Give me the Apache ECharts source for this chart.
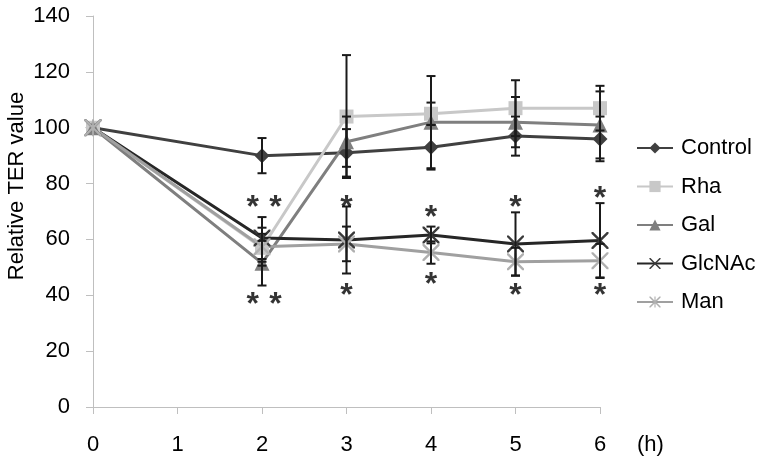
<!DOCTYPE html>
<html><head><meta charset="utf-8">
<script src="https://cdn.jsdelivr.net/npm/echarts@6/dist/echarts.min.js"></script>
<style>html,body{margin:0;padding:0;background:#fff}#c{width:759px;height:459px}</style>
</head><body><div id="c"></div>
<script>
const hours = [0, 2, 3, 4, 5, 6];
const xTicks = [0, 1, 2, 3, 4, 5, 6];
const control = [100, 90, 91, 93, 97, 96];
const controlErr = [0, 6.3, 8.5, 8, 7, 8];
const rha = [100, 57, 104, 105, 107, 107];
const rhaErr = [0, 5, 22, 4, 10, 8];
const gal = [100, 51.5, 95, 102, 102, 101];
const galErr = [0, 8, 9, 16.5, 9, 12];
const glcnac = [100, 60.5, 59.8, 61.6, 58.4, 59.6];
const glcnacErr = [0, 7.5, 12, 3, 11.3, 13.4];
const man = [100, 57.4, 58.4, 55.3, 52, 52.4];
const manErr = [0, 6.8, 6.2, 4, 5, 6];
const starX = [1.89, 2.16, 3, 4, 5, 6, 1.89, 2.16, 3, 4, 5, 6];
const starY = [73.2, 73.2, 73.2, 69.6, 73.5, 76.7, 38.5, 38.5, 41.9, 45.8, 41.9, 41.9];

const FONT = 'Liberation Sans, Arial, sans-serif';
const X_PATH = 'path://M0,0 L2,0 L10,8 L18,0 L20,0 L20,2 L12,10 L20,18 L20,20 L18,20 L10,12 L2,20 L0,20 L0,18 L8,10 L0,2 Z';
const STAR_PATH = 'path://M0,0 L2,0 L10,8 L18,0 L20,0 L20,2 L12,10 L20,18 L20,20 L18,20 L10,12 L2,20 L0,20 L0,18 L8,10 L0,2 Z M9,0 L11,0 L11,20 L9,20 Z';

const defs = [
  {name: 'Control', vals: control, err: controlErr, color: '#404040', symbol: 'diamond', size: 15},
  {name: 'Rha', vals: rha, err: rhaErr, color: '#c8c8c8', symbol: 'rect', size: 14},
  {name: 'Gal', vals: gal, err: galErr, color: '#7f7f7f', symbol: 'triangle', size: 15},
  {name: 'GlcNAc', vals: glcnac, err: glcnacErr, color: '#262626', symbol: X_PATH, size: 17, markColor: '#3a3a3a'},
  {name: 'Man', vals: man, err: manErr, color: '#a0a0a0', symbol: STAR_PATH, size: 17, markColor: '#b0b0b0'}
];

const series = [];
defs.forEach(d => {
  series.push({
    name: d.name, type: 'line', z: 3,
    data: hours.map((h, i) => [h, d.vals[i]]),
    symbol: d.symbol, symbolSize: d.size, showSymbol: true,
    lineStyle: {color: d.color, width: 3},
    itemStyle: {color: d.markColor || d.color, borderWidth: 0},
    emphasis: {disabled: true}, animation: false
  });
});
defs.forEach(d => {
  series.push({
    name: d.name + '_err', type: 'custom', z: 4, silent: true,
    data: hours.map((h, i) => [h, d.vals[i], d.err[i]]).filter(r => r[2] > 0),
    renderItem: (params, api) => {
      const x = api.value(0), y = api.value(1), e = api.value(2);
      const top = api.coord([x, y + e]);
      const bot = api.coord([x, y - e]);
      const w = 4.5;
      const st = {stroke: '#1a1a1a', lineWidth: 2};
      return {type: 'group', children: [
        {type: 'line', shape: {x1: top[0], y1: top[1], x2: bot[0], y2: bot[1]}, style: st},
        {type: 'line', shape: {x1: top[0] - w, y1: top[1], x2: top[0] + w, y2: top[1]}, style: st},
        {type: 'line', shape: {x1: bot[0] - w, y1: bot[1], x2: bot[0] + w, y2: bot[1]}, style: st}
      ]};
    },
    animation: false
  });
});
series.push({
  name: 'sig', type: 'scatter', z: 5, silent: true,
  data: starX.map((x, i) => [x, starY[i]]),
  symbolSize: 1, itemStyle: {color: 'rgba(0,0,0,0)'},
  label: {show: true, formatter: '*', position: 'inside', fontSize: 32, fontWeight: 'bold',
    fontFamily: FONT, color: '#000', offset: [0, 6]},
  animation: false
});

const chart = echarts.init(document.getElementById('c'));
chart.setOption({
  animation: false,
  grid: {left: 93, right: 159, top: 16, bottom: 52, containLabel: false},
  legend: {
    data: defs.map(d => d.name), orient: 'vertical', left: 636, top: 137, padding: 0,
    itemWidth: 36, itemHeight: 14, itemGap: 16.5,
    textStyle: {fontSize: 22, color: '#000', fontFamily: FONT, padding: [0, 0, 0, 3]},
    selectedMode: false
  },
  xAxis: {
    type: 'value', min: 0, max: 6, interval: 1,
    axisLine: {show: true, lineStyle: {color: '#bfbfbf', width: 1}},
    axisTick: {show: true, length: 7, lineStyle: {color: '#bfbfbf'}}, splitLine: {show: false},
    axisLabel: {margin: 27, fontSize: 22, color: '#000', fontFamily: FONT,
      formatter: v => xTicks.includes(v) ? String(v) : ''}
  },
  yAxis: {
    type: 'value', min: 0, max: 140, interval: 20,
    axisLine: {show: true, lineStyle: {color: '#bfbfbf', width: 1}},
    axisTick: {show: true, length: 7, lineStyle: {color: '#bfbfbf'}},
    splitLine: {show: false},
    axisLabel: {margin: 23, fontSize: 22, color: '#000', fontFamily: FONT}
  },
  graphic: [
    {type: 'text', x: 637, y: 445, style: {text: '(h)', fontSize: 22, fill: '#000', fontFamily: FONT, verticalAlign: 'middle'}},
    {type: 'text', x: 17, y: 186, rotation: Math.PI / 2, style: {text: 'Relative TER value', fontSize: 22, fill: '#000', fontFamily: FONT, align: 'center', verticalAlign: 'middle'}}
  ],
  series: series
});
</script></body></html>
